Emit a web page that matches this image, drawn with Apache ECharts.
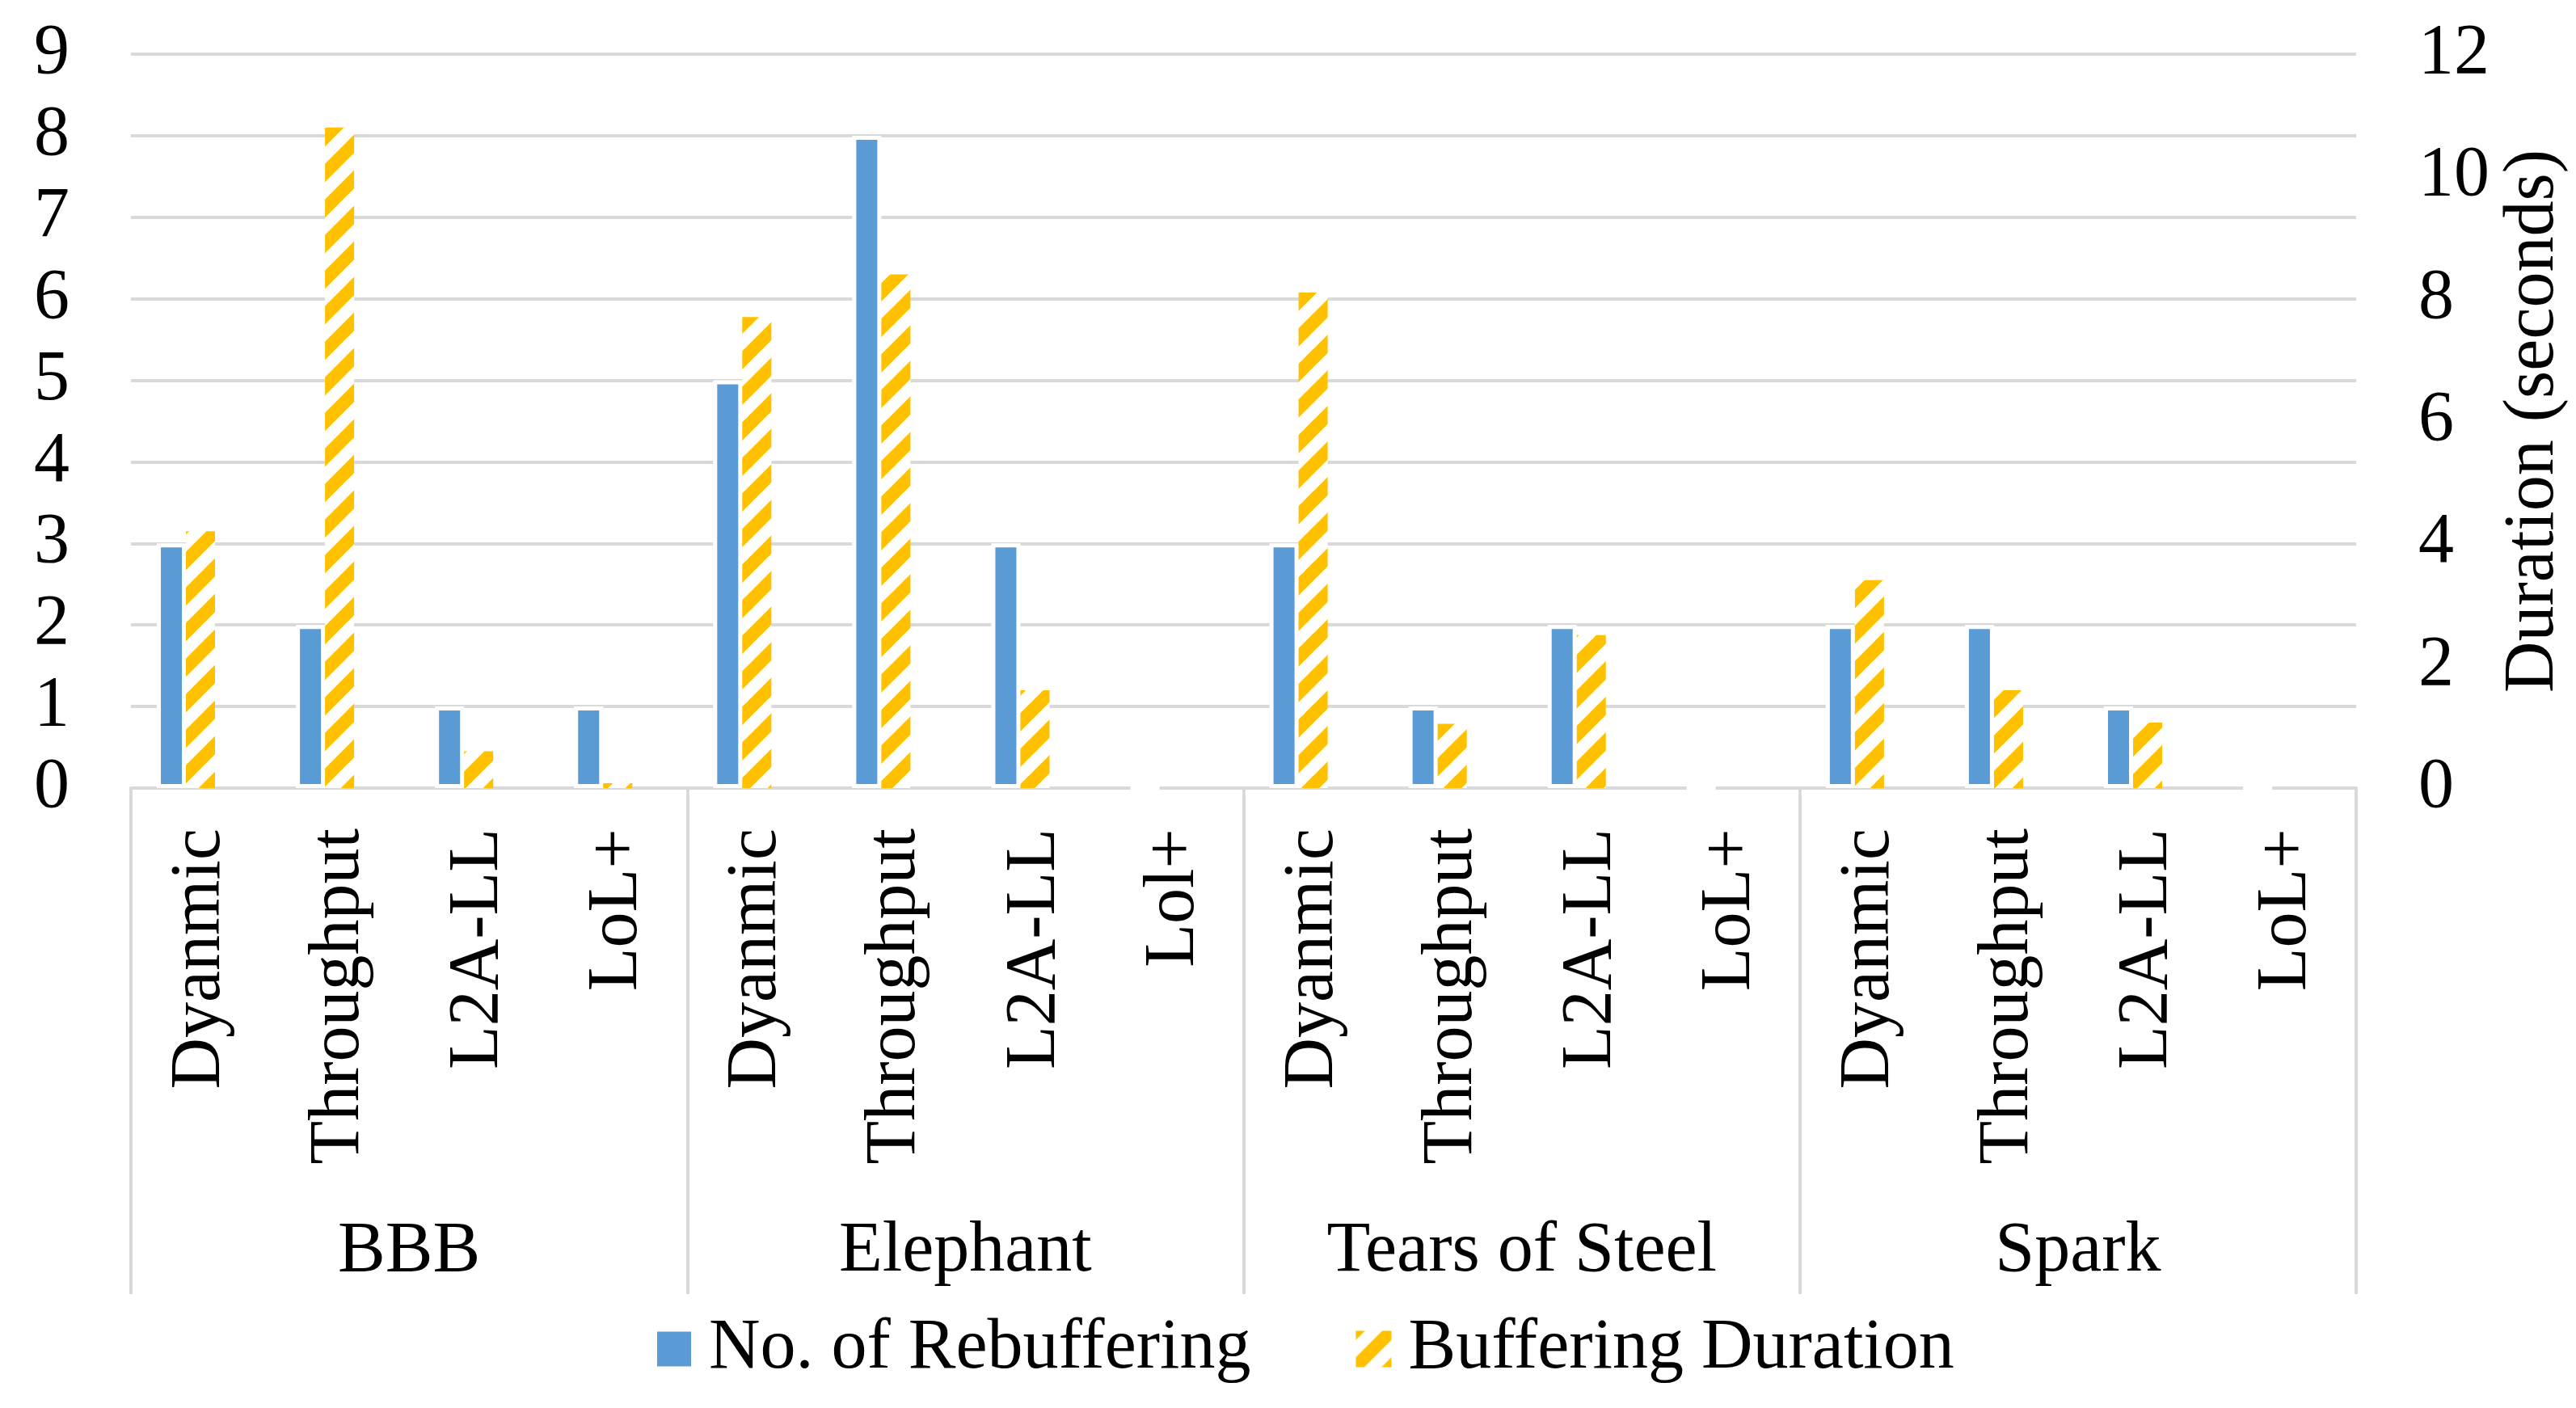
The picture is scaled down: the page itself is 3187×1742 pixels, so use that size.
<!DOCTYPE html>
<html>
<head>
<meta charset="utf-8">
<script src="https://cdn.jsdelivr.net/npm/echarts@6/dist/echarts.min.js"></script>
<style>
html,body{margin:0;padding:0;background:#fff;}
#chart{width:3187px;height:1742px;}
</style>
</head>
<body>
<div id="chart"></div>
<script>
const groups = ['BBB', 'Elephant', 'Tears of Steel', 'Spark'];
const categories = [
  'Dyanmic', 'Throughput', 'L2A-LL', 'LoL+',
  'Dyanmic', 'Throughput', 'L2A-LL', 'Lol+',
  'Dyanmic', 'Throughput', 'L2A-LL', 'LoL+',
  'Dyanmic', 'Throughput', 'L2A-LL', 'LoL+'
];
const rebufferCount = [3, 2, 1, 1, 5, 8, 3, 0, 3, 1, 2, 0, 2, 2, 1, 0];
const bufferDuration = [4.2, 10.8, 0.6, 0.08, 7.7, 8.4, 1.6, 0, 8.1, 1.05, 2.5, 0, 3.4, 1.6, 1.07, 0];
const leftTicks = { min: 0, max: 9, interval: 1 };
const rightTicks = { min: 0, max: 12, interval: 2 };
const seriesNames = ['No. of Rebuffering', 'Buffering Duration'];

const FONT = "'Liberation Serif', 'Times New Roman', serif";
const GRID = '#d9d9d9';

function makeStripePattern() {
  const P = 44;
  const c = document.createElement('canvas');
  c.width = P; c.height = P;
  const g = c.getContext('2d');
  g.fillStyle = '#ffffff';
  g.fillRect(0, 0, P, P);
  g.strokeStyle = '#FFC000';
  g.lineWidth = 16;
  g.lineCap = 'square';
  [-P, 0, P].forEach(k => {
    g.beginPath();
    g.moveTo(k, P);
    g.lineTo(k + P, 0);
    g.stroke();
  });
  return { image: c, repeat: 'repeat' };
}
const stripe = makeStripePattern();

const chart = echarts.init(document.getElementById('chart'), null, { renderer: 'canvas' });
chart.setOption({
  animation: false,
  backgroundColor: '#ffffff',
  textStyle: { fontFamily: FONT, color: '#000' },
  grid: { left: 162, right: 254, top: 67, bottom: 767, containLabel: false },
  legend: {
    data: seriesNames,
    left: 806,
    top: 1620,
    itemWidth: 44,
    itemHeight: 45,
    itemGap: 130,
    textStyle: { fontFamily: FONT, fontSize: 88, color: '#000', padding: [0, 0, 0, 16] },
    icon: 'rect'
  },
  xAxis: [
    {
      type: 'category',
      data: categories,
      position: 'bottom',
      axisLine: { show: true, lineStyle: { color: GRID, width: 4 } },
      axisTick: { show: false },
      axisLabel: { interval: 0, rotate: 90, margin: 50, fontFamily: FONT, fontSize: 88, color: '#000' }
    },
    {
      type: 'category',
      data: groups,
      position: 'bottom',
      axisLine: { show: false },
      axisTick: { show: true, length: 626, interval: 0, alignWithLabel: false, lineStyle: { color: GRID, width: 4 } },
      axisLabel: { interval: 0, margin: 530, fontFamily: FONT, fontSize: 88, color: '#000' }
    }
  ],
  yAxis: [
    {
      type: 'value',
      min: leftTicks.min, max: leftTicks.max, interval: leftTicks.interval,
      axisLine: { show: false },
      axisTick: { show: false },
      splitLine: { show: true, lineStyle: { color: GRID, width: 4 } },
      axisLabel: { margin: 76, fontFamily: FONT, fontSize: 88, color: '#000' }
    },
    {
      type: 'value',
      position: 'right',
      min: rightTicks.min, max: rightTicks.max, interval: rightTicks.interval,
      name: 'Duration (seconds)',
      nameLocation: 'middle',
      nameRotate: 90,
      nameGap: 156,
      nameTextStyle: { fontFamily: FONT, fontSize: 88, color: '#000' },
      axisLine: { show: false },
      axisTick: { show: false },
      splitLine: { show: false },
      axisLabel: { margin: 77, fontFamily: FONT, fontSize: 88, color: '#000' }
    }
  ],
  series: [
    {
      name: seriesNames[0],
      type: 'bar',
      xAxisIndex: 0, yAxisIndex: 0,
      data: rebufferCount,
      barWidth: 36,
      barGap: '0%',
      itemStyle: { color: '#5B9BD5', borderColor: '#ffffff', borderWidth: 5 }
    },
    {
      name: seriesNames[1],
      type: 'bar',
      xAxisIndex: 0, yAxisIndex: 1,
      data: bufferDuration,
      barWidth: 36,
      barGap: '0%',
      itemStyle: { color: stripe }
    },
    {
      name: 'spacer',
      type: 'bar',
      xAxisIndex: 0, yAxisIndex: 0,
      data: [],
      barWidth: 36,
      barGap: '0%'
    }
  ]
});
</script>
</body>
</html>
